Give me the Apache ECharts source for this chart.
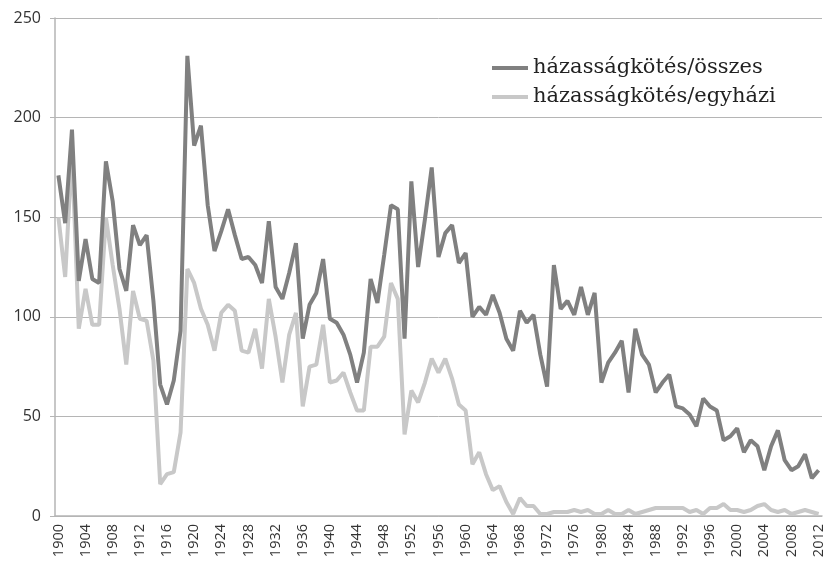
<!DOCTYPE html>
<html>
<head>
<meta charset="utf-8">
<script src="https://cdn.jsdelivr.net/npm/echarts@6/dist/echarts.min.js"></script>
<style>
  html, body { margin: 0; padding: 0; background: #fff; }
  #chart { width: 827px; height: 565px; }
</style>
</head>
<body>
<div id="chart"></div>
<script>
// évek 1900-2012
const years = [];
for (let y = 1900; y <= 2012; y++) years.push(String(y));

const seriesNames = ['házasságkötés/összes', 'házasságkötés/egyházi'];

// házasságkötés/összes
const osszes = [
  171, 147, 194, 118, 139, 119, 117, 178, 158, 124,
  113, 146, 136, 141, 108, 66, 56, 68, 93, 231,
  186, 196, 156, 133, 143, 154, 141, 129, 130, 126,
  117, 148, 115, 109, 122, 137, 89, 106, 112, 129,
  99, 97, 91, 81, 67, 82, 119, 107, 131, 156,
  154, 89, 168, 125, 149, 175, 130, 142, 146, 127,
  132, 100, 105, 101, 111, 102, 89, 83, 103, 97,
  101, 81, 65, 126, 104, 108, 101, 115, 101, 112,
  67, 77, 82, 88, 62, 94, 81, 76, 62, 67,
  71, 55, 54, 51, 45, 59, 55, 53, 38, 40,
  44, 32, 38, 35, 23, 35, 43, 28, 23, 25,
  31, 19, 23
];

// házasságkötés/egyházi
const egyhazi = [
  150, 120, 183, 94, 114, 96, 96, 150, 126, 104,
  76, 113, 99, 98, 78, 16, 21, 22, 42, 124,
  117, 104, 96, 83, 102, 106, 103, 83, 82, 94,
  74, 109, 90, 67, 91, 102, 55, 75, 76, 96,
  67, 68, 72, 62, 53, 53, 85, 85, 90, 117,
  109, 41, 63, 57, 67, 79, 72, 79, 69, 56,
  53, 26, 32, 21, 13, 15, 7, 1, 9, 5,
  5, 1, 1, 2, 2, 2, 3, 2, 3, 1,
  1, 3, 1, 1, 3, 1, 2, 3, 4, 4,
  4, 4, 4, 2, 3, 1, 4, 4, 6, 3,
  3, 2, 3, 5, 6, 3, 2, 3, 1, 2,
  3, 2, 1
];

const chart = echarts.init(document.getElementById('chart'));

const option = {
  animation: false,
  grid: {
    left: 55,
    right: 5,
    top: 18,
    bottom: 49,
    containLabel: false
  },
  legend: {
    orient: 'vertical',
    left: 492,
    top: 55,
    padding: 0,
    icon: 'rect',
    itemWidth: 36,
    itemHeight: 4,
    itemGap: 3,
    textStyle: {
      fontFamily: 'DejaVu Serif',
      fontSize: 21,
      lineHeight: 26,
      color: '#222'
    },
    data: seriesNames
  },
  xAxis: {
    type: 'category',
    data: years,
    boundaryGap: true,
    axisLine: { lineStyle: { color: '#b5b5b5', width: 1.5 } },
    axisTick: {
      interval: 0,
      length: 4,
      lineStyle: { color: '#b5b5b5' }
    },
    axisLabel: {
      interval: 3,
      rotate: 90,
      margin: 8,
      fontFamily: 'Open Sans',
      fontSize: 14.5,
      color: '#333'
    },
    splitLine: { show: false }
  },
  yAxis: {
    type: 'value',
    min: 0,
    max: 250,
    interval: 50,
    axisLine: { show: true, lineStyle: { color: '#b5b5b5', width: 1.5 } },
    axisTick: { show: true, length: 5, lineStyle: { color: '#b5b5b5' } },
    axisLabel: {
      margin: 14,
      fontFamily: 'Open Sans',
      fontSize: 16,
      color: '#333'
    },
    splitLine: { lineStyle: { color: '#b5b5b5', width: 1 } }
  },
  series: [
    {
      name: seriesNames[0],
      type: 'line',
      data: osszes,
      symbol: 'none',
      z: 3,
      lineStyle: { color: '#808080', width: 4 },
      itemStyle: { color: '#808080' }
    },
    {
      name: seriesNames[1],
      type: 'line',
      data: egyhazi,
      symbol: 'none',
      z: 2,
      lineStyle: { color: '#c8c8c8', width: 4 },
      itemStyle: { color: '#c8c8c8' }
    }
  ]
};

chart.setOption(option);
</script>
</body>
</html>
